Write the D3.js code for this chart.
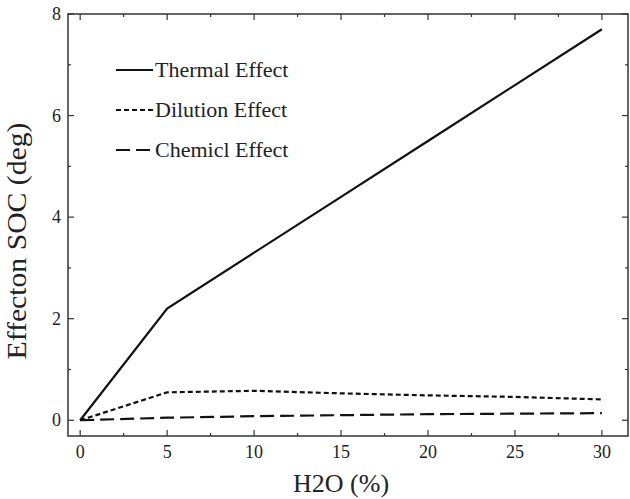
<!DOCTYPE html>
<html>
<head>
<meta charset="utf-8">
<script src="https://cdn.jsdelivr.net/npm/d3@7"></script>
<style>
  body { margin: 0; background: #fff; }
  text { font-family: "Liberation Serif", "Times New Roman", serif; fill: #222; }
</style>
</head>
<body>
<div id="chart"></div>
<script>
// H2O content (%)
const waterPct = [0, 5, 10, 15, 20, 25, 30];
// effect on SOC (deg)
const thermalEffect = [0, 2.2, 3.3, 4.4, 5.5, 6.6, 7.7];
const dilutionEffect = [0, 0.55, 0.58, 0.53, 0.49, 0.46, 0.41];
const chemicalEffect = [0, 0.05, 0.08, 0.1, 0.12, 0.13, 0.14];
const seriesNames = ["Thermal Effect", "Dilution Effect", "Chemicl Effect"];
const xTicks = [0, 5, 10, 15, 20, 25, 30];
const yTicks = [0, 2, 4, 6, 8];

const width = 630, height = 499;
const margin = { top: 14, right: 2, bottom: 63, left: 68 };
const w = width - margin.left - margin.right;
const h = height - margin.top - margin.bottom;

const svg = d3.select("#chart").append("svg")
  .attr("width", width).attr("height", height);
const g = svg.append("g").attr("transform", `translate(${margin.left},${margin.top})`);

const x = d3.scaleLinear().domain([-0.7, 31.5]).range([0, w]);
const y = d3.scaleLinear().domain([-0.31, 8]).range([h, 0]);

// frame
g.append("rect").attr("width", w).attr("height", h)
  .attr("fill", "none").attr("stroke", "#333").attr("stroke-width", 1.5);

// ticks (inward) on all four sides
const minorX = d3.range(0, 30.01, 2.5).filter(v => v % 5 !== 0);
const minorY = d3.range(1, 8, 2);
function tickLines(vals, len, horizontal, pos, dir) {
  g.append("g").selectAll("line").data(vals).enter().append("line")
    .attr("x1", d => horizontal ? x(d) : pos)
    .attr("x2", d => horizontal ? x(d) : pos + dir * len)
    .attr("y1", d => horizontal ? pos : y(d))
    .attr("y2", d => horizontal ? pos + dir * len : y(d))
    .attr("stroke", "#333").attr("stroke-width", 1.2);
}
tickLines(xTicks, 6, true, h, -1);
tickLines(minorX, 3, true, h, -1);
tickLines(xTicks, 6, true, 0, 1);
tickLines(minorX, 3, true, 0, 1);
tickLines(yTicks, 6, false, 0, 1);
tickLines(minorY, 3, false, 0, 1);
tickLines(yTicks, 6, false, w, -1);
tickLines(minorY, 3, false, w, -1);

// tick labels
g.append("g").selectAll("text").data(xTicks).enter().append("text")
  .attr("x", d => x(d)).attr("y", h + 22)
  .attr("text-anchor", "middle").style("font-size", "18px").text(d => d);
g.append("g").selectAll("text").data(yTicks).enter().append("text")
  .attr("x", -7).attr("y", d => y(d) + 6)
  .attr("text-anchor", "end").style("font-size", "18px").text(d => d);

// axis titles
svg.append("text").attr("x", margin.left + x(15)).attr("y", 492)
  .attr("text-anchor", "middle").style("font-size", "26px")
  .text("H2O (%)");
svg.append("text")
  .attr("transform", "translate(26,241) rotate(-90)")
  .attr("text-anchor", "middle").style("font-size", "28px")
  .attr("textLength", 237).attr("lengthAdjust", "spacingAndGlyphs")
  .text("Effecton SOC (deg)");

// lines
const dashes = [null, "5,3", "14,6"];
const seriesData = [thermalEffect, dilutionEffect, chemicalEffect];
const line = d3.line().x(d => x(d[0])).y(d => y(d[1]));
seriesData.forEach((vals, i) => {
  g.append("path")
    .datum(waterPct.map((p, j) => [p, vals[j]]))
    .attr("d", line)
    .attr("fill", "none").attr("stroke", "#111")
    .attr("stroke-width", 2.2)
    .attr("stroke-dasharray", dashes[i]);
});

// legend
const legend = g.append("g").attr("transform", "translate(48,56)");
seriesNames.forEach((name, i) => {
  const ly = i * 40;
  legend.append("line").attr("x1", 0).attr("x2", 37).attr("y1", ly).attr("y2", ly)
    .attr("stroke", "#111").attr("stroke-width", 2.2)
    .attr("stroke-dasharray", dashes[i]);
  legend.append("text").attr("x", 39).attr("y", ly + 7)
    .style("font-size", "22px").text(name);
});
</script>
</body>
</html>
